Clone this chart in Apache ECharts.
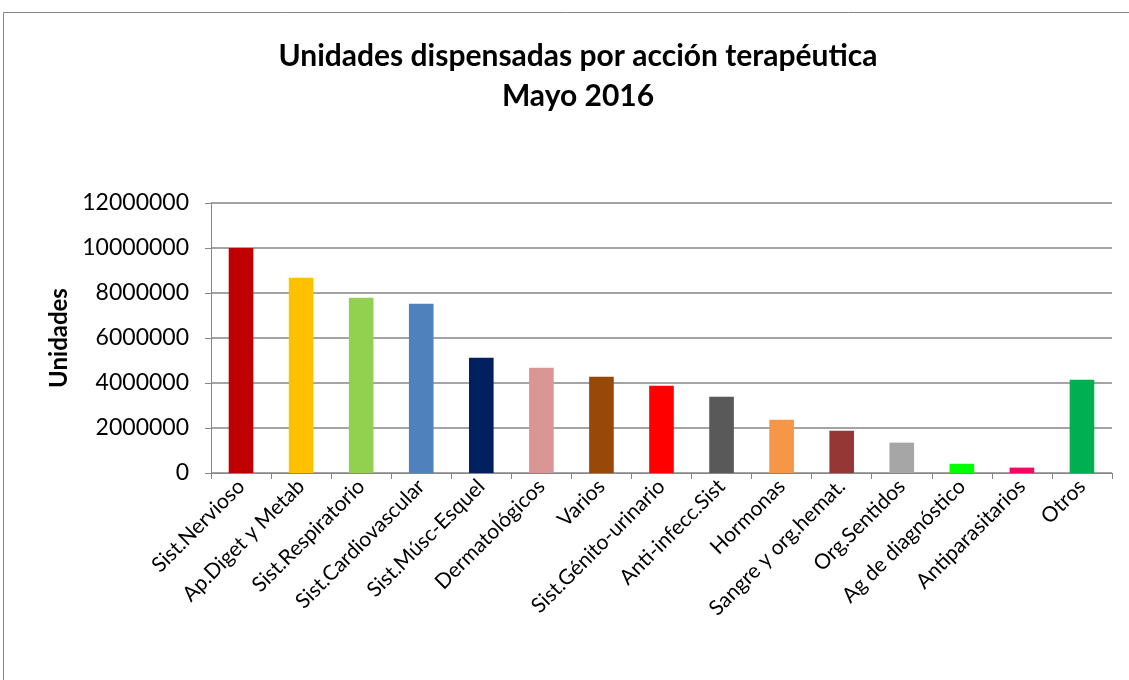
<!DOCTYPE html>
<html>
<head>
<meta charset="utf-8">
<script src="https://cdn.jsdelivr.net/npm/echarts@6/dist/echarts.min.js"></script>
<style>
  html, body { margin: 0; padding: 0; background: #fff; }
  #main { width: 1129px; height: 680px; }
</style>
</head>
<body>
<div id="main"></div>
<script>
const categories = ['Sist.Nervioso', 'Ap.Diget y Metab', 'Sist.Respiratorio', 'Sist.Cardiovascular',
  'Sist.Músc-Esquel', 'Dermatológicos', 'Varios', 'Sist.Génito-urinario', 'Anti-infecc.Sist',
  'Hormonas', 'Sangre y org.hemat.', 'Org.Sentidos', 'Ag de diagnóstico', 'Antiparasitarios', 'Otros']
const unidades = [10000000, 8680000, 7790000, 7520000, 5120000, 4680000, 4280000, 3880000, 3390000,
  2370000, 1880000, 1350000, 410000, 240000, 4150000]
const barColors = ['#C00000', '#FFC000', '#92D050', '#4F81BD', '#002060', '#D99694', '#984807', '#FF0000',
  '#595959', '#F79646', '#953735', '#A6A6A6', '#00FF00', '#FF0066', '#00B050']
const yTicks = [0, 2000000, 4000000, 6000000, 8000000, 10000000, 12000000]

const font = 'Lato, "Liberation Sans", sans-serif'
const myChart = echarts.init(document.getElementById('main'))
const option = {
  backgroundColor: '#fff',
  animation: false,
  graphic: [{
    type: 'rect',
    shape: { x: 3.5, y: 12.5, width: 1140, height: 700 },
    style: { fill: 'none', stroke: '#868686', lineWidth: 1 },
  }],
  title: {
    text: 'Unidades dispensadas por acción terapéutica\nMayo 2016',
    left: 573,
    top: 31,
    textAlign: 'center',
    textStyle: { fontFamily: font, fontWeight: 'bold', fontSize: 30, lineHeight: 40, color: '#000' },
  },
  grid: { left: 211, right: 17, top: 203, bottom: 207, containLabel: false },
  xAxis: {
    type: 'category',
    data: categories,
    axisLine: { lineStyle: { color: '#868686' } },
    axisTick: { show: true, alignWithLabel: false, length: 6, lineStyle: { color: '#868686' } },
    axisLabel: { interval: 0, rotate: 45, margin: 10, fontFamily: font, fontSize: 21, color: '#000' },
  },
  yAxis: {
    type: 'value',
    min: yTicks[0],
    max: yTicks[yTicks.length - 1],
    interval: 2000000,
    name: 'Unidades',
    nameLocation: 'middle',
    nameRotate: 90,
    nameGap: 136,
    nameTextStyle: { fontFamily: font, fontWeight: 'bold', fontSize: 24, color: '#000' },
    axisLine: { show: true, lineStyle: { color: '#868686' } },
    axisTick: { show: true, length: 6, lineStyle: { color: '#868686' } },
    axisLabel: { margin: 22, fontFamily: font, fontSize: 23, color: '#000', formatter: v => String(v) },
    splitLine: { lineStyle: { color: '#868686', width: 1.5 } },
  },
  series: [{
    type: 'bar',
    data: unidades.map((v, i) => ({ value: v, itemStyle: { color: barColors[i] } })),
    barWidth: '41%',
  }],
}
myChart.setOption(option)
</script>
</body>
</html>
